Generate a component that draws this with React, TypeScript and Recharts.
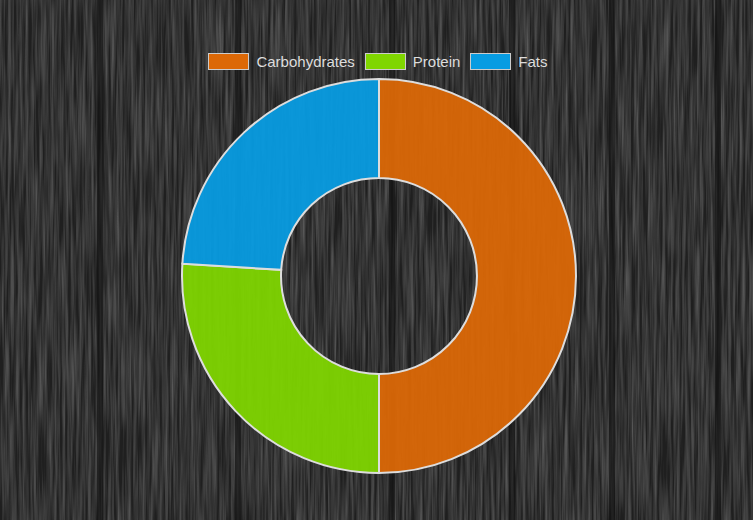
import { PieChart, Pie, Cell } from 'recharts';

const CATEGORIES = ['Carbohydrates', 'Protein', 'Fats'];
const VALUES = [50, 26, 24];
const COLORS = ['#dc6806', '#80d600', '#079ce2'];

const data = CATEGORIES.map((name, i) => ({ name, value: VALUES[i] }));

const SEAMS = [100, 238, 392, 512, 612, 718];

function WoodBackground() {
  return (
    <svg width={753} height={520} style={{ position: 'absolute', left: 0, top: 0 }}>
      <defs>
        <filter id="grain" x="0" y="0" width="100%" height="100%">
          <feTurbulence type="fractalNoise" baseFrequency="0.35 0.012" numOctaves={3} seed={4} />
          <feColorMatrix
            type="matrix"
            values="0 0 0 0 0.24  0 0 0 0 0.24  0 0 0 0 0.24  0.9 0 0 0 -0.25"
          />
        </filter>
      </defs>
      <rect width={753} height={520} fill="#1f1f1f" />
      <rect width={753} height={520} filter="url(#grain)" />
      {SEAMS.map((x) => (
        <rect key={x} x={x - 3} y={0} width={6} height={520} fill="#111" opacity={0.6} />
      ))}
    </svg>
  );
}

function ChartLegend() {
  return (
    <div
      style={{
        position: 'absolute',
        top: 52,
        left: 0,
        width: 753,
        display: 'flex',
        justifyContent: 'center',
        gap: 10,
        paddingLeft: 3,
        boxSizing: 'border-box',
      }}
    >
      {CATEGORIES.map((name, i) => (
        <span
          key={name}
          style={{
            display: 'flex',
            alignItems: 'center',
            gap: 7,
            color: '#ddd',
            fontSize: 15,
            lineHeight: '19px',
            fontFamily: '"Liberation Sans", Arial, sans-serif',
          }}
        >
          <span style={{ width: 39, height: 15, background: COLORS[i], border: '1px solid #ccc' }} />
          {name}
        </span>
      ))}
    </div>
  );
}

export default function App() {
  return (
    <div style={{ position: 'fixed', left: 0, top: 0, width: 753, height: 520, overflow: 'hidden' }}>
      <WoodBackground />
      <div style={{ position: 'absolute', left: 0, top: 0 }}>
        <PieChart width={753} height={520} margin={{ top: 0, right: 0, bottom: 0, left: 0 }}>
          <Pie
            data={data}
            dataKey="value"
            cx={379}
            cy={276}
            innerRadius={98}
            outerRadius={197}
            startAngle={90}
            endAngle={-270}
            stroke="#ddd"
            strokeWidth={2}
            isAnimationActive={false}
          >
            {data.map((entry, i) => (
              <Cell key={entry.name} fill={COLORS[i]} fillOpacity={0.94} />
            ))}
          </Pie>
        </PieChart>
      </div>
      <ChartLegend />
    </div>
  );
}
